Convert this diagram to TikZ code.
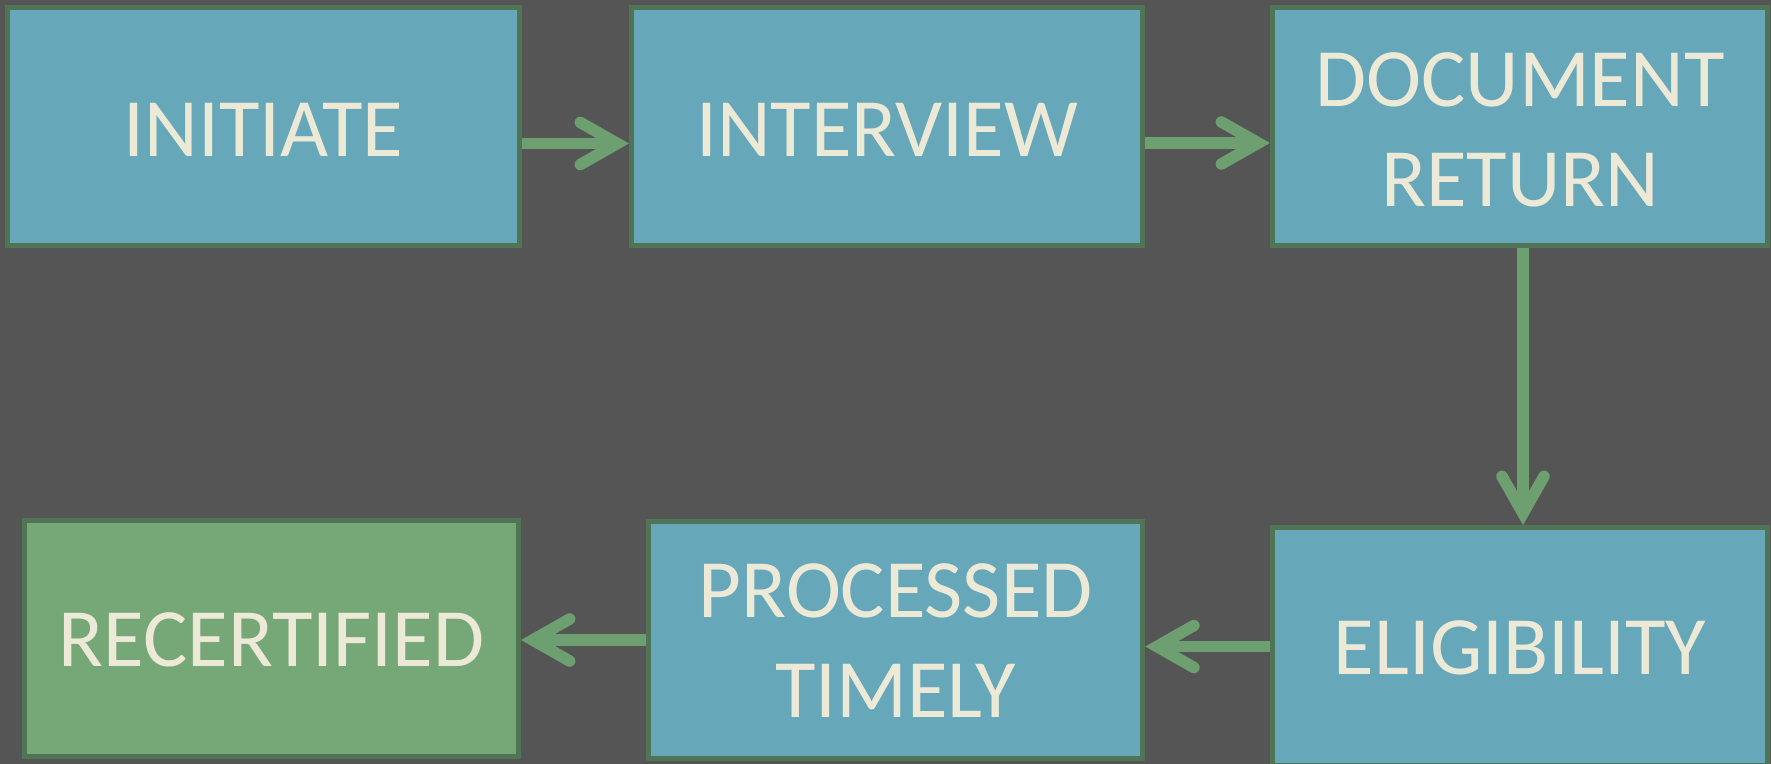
\documentclass[tikz,border=0pt]{standalone}
\usepackage{fontspec}
\setmainfont{Carlito}
\usetikzlibrary{arrows.meta}
\definecolor{bgc}{HTML}{555555}
\definecolor{boxblue}{HTML}{66A7B9}
\definecolor{boxgreen}{HTML}{76A877}
\definecolor{edgec}{HTML}{4F7555}
\definecolor{arrowc}{HTML}{6E9F70}
\definecolor{txtc}{HTML}{EDE9D7}
\newcommand{\lowr}[2]{\raisebox{-#1}[\height][\depth]{#2}}
\tikzset{
  stepbox/.style={draw=edgec, line width=2.5pt, fill=boxblue, text=txtc,
    font=\fontsize{41.5}{50}\selectfont, align=center, inner sep=0pt},
  donebox/.style={stepbox, fill=boxgreen},
  flow/.style={draw=arrowc, line width=5.75pt,
    -{Straight Barb[length=18.5pt,width=21pt,line cap=round,line join=miter]}}
}
\begin{document}
\begin{tikzpicture}[x=0.5pt,y=-0.5pt]
\fill[bgc] (0,0) rectangle (1771,764);
\useasboundingbox (0,0) rectangle (1771,764);
\begin{scope}
\clip (0,0) rectangle (1771,764);
\node[stepbox, minimum width=256pt, minimum height=119pt] (init) at (263.5,126.5) {\lowr{1.8pt}{INITIATE}};
\node[stepbox, minimum width=255.5pt, minimum height=119pt] (intv) at (887,126.5) {\lowr{1.8pt}{INTERVIEW}};
\node[stepbox, minimum width=247.5pt, minimum height=119pt] (doc) at (1520,126.5) {\lowr{1.8pt}{DOCUMENT}\\\lowr{1.8pt}{RETURN}};
\node[stepbox, minimum width=247.5pt, minimum height=119pt] (elig) at (1520,646.5) {\lowr{0.9pt}{ELIGIBILITY}};
\node[stepbox, minimum width=247pt, minimum height=118.5pt] (proc) at (895.75,640) {\lowr{0.5pt}{PROCESSED}\\\lowr{0.5pt}{TIMELY}};
\node[donebox, minimum width=247pt, minimum height=118pt] (rec) at (271.5,638.5) {\lowr{0.6pt}{RECERTIFIED}};
\end{scope}
\draw[flow] ([yshift=-8.5pt]init.east) -- ([yshift=-8.5pt]intv.west);
\draw[flow] ([yshift=-8.25pt]intv.east) -- ([yshift=-8.25pt]doc.west);
\draw[flow] ([xshift=1.5pt]doc.south) -- ([xshift=1.5pt]elig.north);
\draw[flow] (elig.west) -- (proc.east |- elig.west);
\draw[flow] (proc.west) -- (rec.east |- proc.west);
\end{tikzpicture}
\end{document}
